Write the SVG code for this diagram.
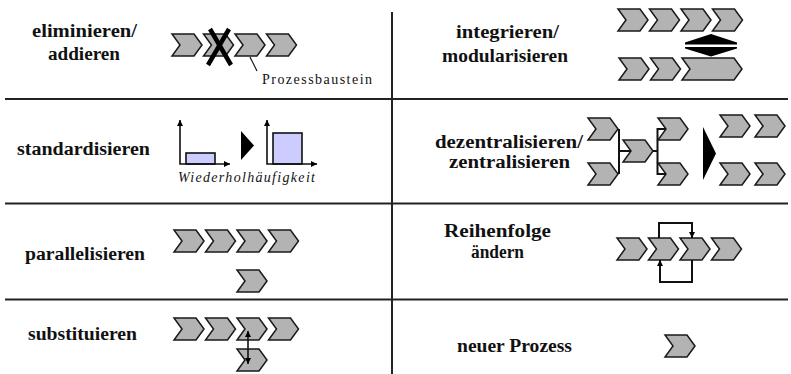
<svg xmlns="http://www.w3.org/2000/svg" width="791" height="374" viewBox="0 0 791 374">
<style>
.bg{fill:#fff}
.grid{stroke:#222;stroke-width:2;fill:none}
.chev{fill:#b3b3b3;stroke:#1a1a1a;stroke-width:1.5;stroke-linejoin:miter}
.lbl{font-family:"Liberation Serif","Times New Roman",serif;font-weight:bold;font-size:18.5px;fill:#111}
.small{font-family:"Liberation Serif","Times New Roman",serif;font-size:14px;fill:#111}
.ital{font-style:italic}
.conn{stroke:#111;stroke-width:2;fill:none}
.axis{stroke:#111;stroke-width:1.6;fill:none}
.bar{fill:#ccccff;stroke:#111;stroke-width:1.6}
.solid{fill:#000}
</style>
<defs>
<path id="chev" class="chev" d="M0,0 H22 L30,11 L22,22 H0 L8,11 Z"/>
<path id="chevlong" class="chev" d="M0,0 H52 L60,11 L52,22 H0 L8,11 Z"/>
<marker id="ah" viewBox="0 0 10 10" refX="10" refY="5" markerUnits="userSpaceOnUse" markerWidth="7" markerHeight="6" orient="auto-start-reverse">
<path d="M0,0 L10,5 L0,10 Z" fill="#000"/>
</marker>
</defs>
<rect class="bg" x="0" y="0" width="791" height="374"/>

<g id="grid" class="grid">
<line x1="392" y1="12" x2="392" y2="374"/>
<line x1="5" y1="99" x2="788" y2="99"/>
<line x1="5" y1="203.5" x2="788" y2="203.5"/>
<line x1="5" y1="299.5" x2="788" y2="299.5"/>
</g>

<g id="eliminieren">
<text class="lbl" x="32" y="37" textLength="105" lengthAdjust="spacingAndGlyphs">eliminieren/</text>
<text class="lbl" x="48" y="60" textLength="72" lengthAdjust="spacingAndGlyphs">addieren</text>
<use href="#chev" x="172" y="34"/>
<use href="#chev" x="203.5" y="34"/>
<use href="#chev" x="235" y="34"/>
<use href="#chev" x="266.5" y="34"/>
<g stroke="#000" stroke-width="4.5" stroke-linecap="butt">
<line x1="210" y1="29" x2="231" y2="65"/>
<line x1="229" y1="29" x2="208" y2="65"/>
</g>
<text class="small" x="262" y="84" textLength="110" lengthAdjust="spacing">Prozessbaustein</text>
</g>

<g id="integrieren">
<text class="lbl" x="456" y="38" textLength="103" lengthAdjust="spacingAndGlyphs">integrieren/</text>
<text class="lbl" x="442" y="62" textLength="126" lengthAdjust="spacingAndGlyphs">modularisieren</text>
<use href="#chev" x="618" y="9"/>
<use href="#chev" x="649.5" y="9"/>
<use href="#chev" x="681" y="9"/>
<use href="#chev" x="712.5" y="9"/>
<polygon class="solid" points="711,34 737,42.5 737,44.5 685,44.5 685,42.5"/>
<polygon class="solid" points="685,47 737,47 737,48.5 711,56.5 685,48.5"/>
<use href="#chev" x="619" y="58"/>
<use href="#chev" x="650.5" y="58"/>
<use href="#chevlong" x="682" y="58"/>
</g>

<g id="standardisieren">
<text class="lbl" x="17" y="155" textLength="133" lengthAdjust="spacingAndGlyphs">standardisieren</text>
<rect class="bar" x="186" y="153" width="29" height="11"/>
<path class="axis" d="M180,120 V164 H230" marker-start="url(#ah)" marker-end="url(#ah)"/>
<polygon class="solid" points="241,131 254,145.5 241,160"/>
<rect class="bar" x="273" y="133" width="29" height="31"/>
<path class="axis" d="M267,120 V164 H317" marker-start="url(#ah)" marker-end="url(#ah)"/>
<text class="small ital" x="178" y="182" textLength="137" lengthAdjust="spacing">Wiederholhäufigkeit</text>
</g>

<g id="dezentralisieren">
<text class="lbl" x="435" y="148" textLength="148" lengthAdjust="spacingAndGlyphs">dezentralisieren/</text>
<text class="lbl" x="449" y="168" textLength="121" lengthAdjust="spacingAndGlyphs">zentralisieren</text>
<use href="#chev" x="588" y="118"/>
<use href="#chev" x="588" y="163"/>
<use href="#chev" x="623" y="140"/>
<use href="#chev" x="658" y="118"/>
<use href="#chev" x="658" y="163"/>
<polygon class="solid" points="703,127 716,153.5 703,180"/>
<use href="#chev" x="720" y="115"/>
<use href="#chev" x="755" y="115"/>
<use href="#chev" x="720" y="163"/>
<use href="#chev" x="755" y="163"/>
</g>

<g id="parallelisieren">
<text class="lbl" x="25" y="260" textLength="120" lengthAdjust="spacingAndGlyphs">parallelisieren</text>
<use href="#chev" x="174" y="230"/>
<use href="#chev" x="205.5" y="230"/>
<use href="#chev" x="237" y="230"/>
<use href="#chev" x="268.5" y="230"/>
<use href="#chev" x="237" y="270"/>
</g>

<g id="reihenfolge">
<text class="lbl" x="444" y="237" textLength="107" lengthAdjust="spacingAndGlyphs">Reihenfolge</text>
<text class="lbl" x="471" y="258" textLength="53" lengthAdjust="spacingAndGlyphs">ändern</text>
<use href="#chev" x="617" y="238"/>
<use href="#chev" x="648.5" y="238"/>
<use href="#chev" x="680" y="238"/>
<use href="#chev" x="711.5" y="238"/>
</g>

<g id="substituieren">
<text class="lbl" x="28" y="340" textLength="109" lengthAdjust="spacingAndGlyphs">substituieren</text>
<use href="#chev" x="174" y="318"/>
<use href="#chev" x="205.5" y="318"/>
<use href="#chev" x="237" y="318"/>
<use href="#chev" x="268.5" y="318"/>
<use href="#chev" x="237" y="349"/>
</g>

<g id="neuer-prozess">
<text class="lbl" x="457" y="352" textLength="115" lengthAdjust="spacingAndGlyphs">neuer Prozess</text>
<use href="#chev" x="665" y="335"/>
</g>

<g id="connectors" class="conn">
<line x1="250" y1="57" x2="257" y2="71" stroke-width="1.2"/>
<path d="M619,129 V174"/>
<path d="M619,151 H631"/>
<path d="M653,151 H657.5"/>
<path d="M666,129 H657.5 V174 H666"/>
<path d="M659,238 V223 H692 V238" marker-end="url(#ah)"/>
<path d="M692,260 V282 H660 V260" marker-end="url(#ah)"/>
<path d="M248,331 V364" stroke-width="1.6" marker-start="url(#ah)" marker-end="url(#ah)"/>
</g>
</svg>
